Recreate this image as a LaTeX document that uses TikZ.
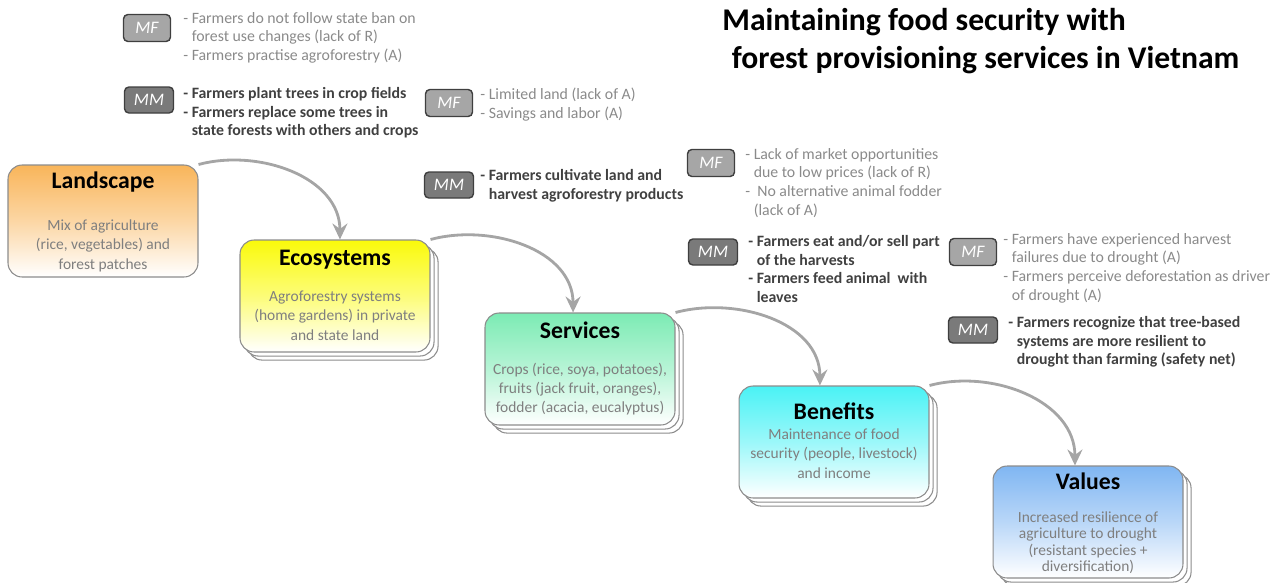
\documentclass[tikz,border=0pt]{standalone}
\usepackage{fontspec}
\setmainfont{Carlito}
\usetikzlibrary{arrows.meta,positioning,calc,shadows}
\definecolor{landorange}{HTML}{F9B55A}
\definecolor{ecoyellow}{HTML}{FAFA0A}
\definecolor{servgreen}{HTML}{7CEBB4}
\definecolor{bencyan}{HTML}{4AF2F5}
\definecolor{valblue}{HTML}{80B6F2}
\definecolor{cardline}{HTML}{8C8C8C}
\definecolor{bodygrey}{HTML}{7F7F7F}
\definecolor{flowgrey}{HTML}{A5A5A5}
\definecolor{mffill}{HTML}{A6A6A6}
\definecolor{mmfill}{HTML}{7A7A7A}
\definecolor{tagline}{HTML}{3F3F3F}
\definecolor{mftext}{HTML}{8A8A8A}
\definecolor{mmtext}{HTML}{404040}
\tikzset{
  card/.style={
    draw=cardline,
    rounded corners=8pt,
    line width=0.6pt,
    minimum width=3.8cm,
    minimum height=2.24cm,
    inner sep=0pt,
    bottom color=white,
    top color=#1,
    middle color=#1!55
  },
  stackcard/.style={
    card=#1,
    double copy shadow={shadow xshift=2.3pt, shadow yshift=-2.3pt,
      fill=white, draw=cardline, line width=0.6pt}
  },
  cardtitle/.style={
    anchor=base,
    inner sep=0pt,
    font=\fontsize{13.5}{16}\selectfont\bfseries
  },
  cardbody/.style={
    anchor=north,
    inner sep=0pt,
    align=center,
    text=bodygrey,
    font=\fontsize{8.8}{11}\selectfont
  },
  tagmf/.style={
    draw=tagline,
    fill=mffill,
    rounded corners=2.5pt,
    line width=0.8pt,
    minimum width=0.94cm,
    minimum height=0.54cm,
    inner sep=0pt,
    text=white,
    font=\fontsize{10}{12}\selectfont\itshape
  },
  tagmm/.style={
    tagmf,
    fill=mmfill,
    minimum width=0.98cm,
    minimum height=0.52cm
  },
  mfnote/.style={
    anchor=north west,
    inner sep=0pt,
    align=left,
    text=mftext,
    font=\fontsize{9}{10.6}\selectfont
  },
  mmnote/.style={
    mfnote,
    text=mmtext,
    font=\fontsize{9}{10.6}\selectfont\bfseries
  },
  flowarrow/.style={
    -{Stealth[length=3.2mm,width=3mm,inset=1.1mm]},
    line width=1.6pt,
    draw=flowgrey
  },
  headline/.style={
    anchor=north west,
    inner sep=0pt,
    align=left,
    font=\fontsize{18}{21.5}\selectfont\bfseries
  }
}
\newcommand{\ind}{\phantom{- }}

\begin{document}
\begin{tikzpicture}[x=0.02cm,y=0.02cm]
    \useasboundingbox (0,0) rectangle (1287,-582);
    % title
    \node[headline] (title) at (722,-8) {Maintaining food security with\\\hspace{0.3em}forest provisioning services in Vietnam};
    % cascade boxes
    \node[card=landorange] (land) at (103,-221) {};
    \node[stackcard=ecoyellow] (eco) at (335,-296) {};
    \node[stackcard=servgreen] (serv) at (580,-369) {};
    \node[stackcard=bencyan] (ben) at (834,-442) {};
    \node[stackcard=valblue] (val) at (1088,-522) {};
    \node[cardtitle] (landT) at ($(land.north)+(0,-24)$) {Landscape};
    \node[cardbody] (landB) at ($(land.north)+(0,-55)$) {Mix of agriculture\\(rice, vegetables) and\\forest patches};
    \node[cardtitle] (ecoT) at ($(eco.north)+(0,-26)$) {Ecosystems};
    \node[cardbody] (ecoB) at ($(eco.north)+(0,-51)$) {Agroforestry systems\\(home gardens) in private\\and state land};
    \node[cardtitle] (servT) at ($(serv.north)+(0,-26)$) {Services};
    \node[cardbody] (servB) at ($(serv.north)+(0,-50)$) {Crops (rice, soya, potatoes),\\fruits (jack fruit, oranges),\\fodder (acacia, eucalyptus)};
    \node[cardtitle] (benT) at ($(ben.north)+(0,-34)$) {Benefits};
    \node[cardbody] (benB) at ($(ben.north)+(0,-43)$) {Maintenance of food\\security (people, livestock)\\and income};
    \node[cardtitle] (valT) at ($(val.north)+(0,-24)$) {Values};
    \node[cardbody, font=\fontsize{8.8}{9.3}\selectfont] (valB) at ($(val.north)+(0,-46)$) {Increased resilience of\\agriculture to drought\\(resistant species +\\diversification)};
    % mediating factors and mechanisms
    \node[tagmf] (mf1) at (147,-28) {MF};
    \node[mfnote] (mf1t) at (183,-12) {- Farmers do not follow state ban on\\\ind forest use changes (lack of R)\\- Farmers practise agroforestry (A)};
    \node[tagmm] (mm1) at (149,-100) {MM};
    \node[mmnote] (mm1t) at (183,-87) {- Farmers plant trees in crop fields\\- Farmers replace some trees in\\\ind state forests with others and crops};
    \node[tagmf] (mf2) at (449,-103) {MF};
    \node[mfnote] (mf2t) at (480,-88) {- Limited land (lack of A)\\- Savings and labor (A)};
    \node[tagmm] (mm2) at (449,-185) {MM};
    \node[mmnote] (mm2t) at (480,-169) {- Farmers cultivate land and\\\ind harvest agroforestry products};
    \node[tagmf] (mf3) at (711,-163) {MF};
    \node[mfnote] (mf3t) at (745,-148) {- Lack of market opportunities\\\ind due to low prices (lack of R)\\-\ \ No alternative animal fodder\\\ind (lack of A)};
    \node[tagmm] (mm3) at (713,-252) {MM};
    \node[mmnote] (mm3t) at (748,-235) {- Farmers eat and/or sell part\\\ind of the harvests\\- Farmers feed animal\ \ with\\\ind leaves};
    \node[tagmf] (mf4) at (973,-252) {MF};
    \node[mfnote] (mf4t) at (1003,-233) {- Farmers have experienced harvest\\\ind failures due to drought (A)\\- Farmers perceive deforestation as driver\\\ind of drought (A)};
    \node[tagmm] (mm4) at (973,-330) {MM};
    \node[mmnote] (mm4t) at (1008,-316) {- Farmers recognize that tree-based\\\ind systems are more resilient to\\\ind drought than farming (safety net)};
    % flow
    \draw[flowarrow] (land.north east) to[out=15,in=90] (eco.85);
    \draw[flowarrow] (eco.north east) to[out=15,in=90] (serv.97);
    \draw[flowarrow] (serv.north east) to[out=15,in=90] (ben.104);
    \draw[flowarrow] (ben.north east) to[out=15,in=90] (val.103);
  \end{tikzpicture}
\end{document}
